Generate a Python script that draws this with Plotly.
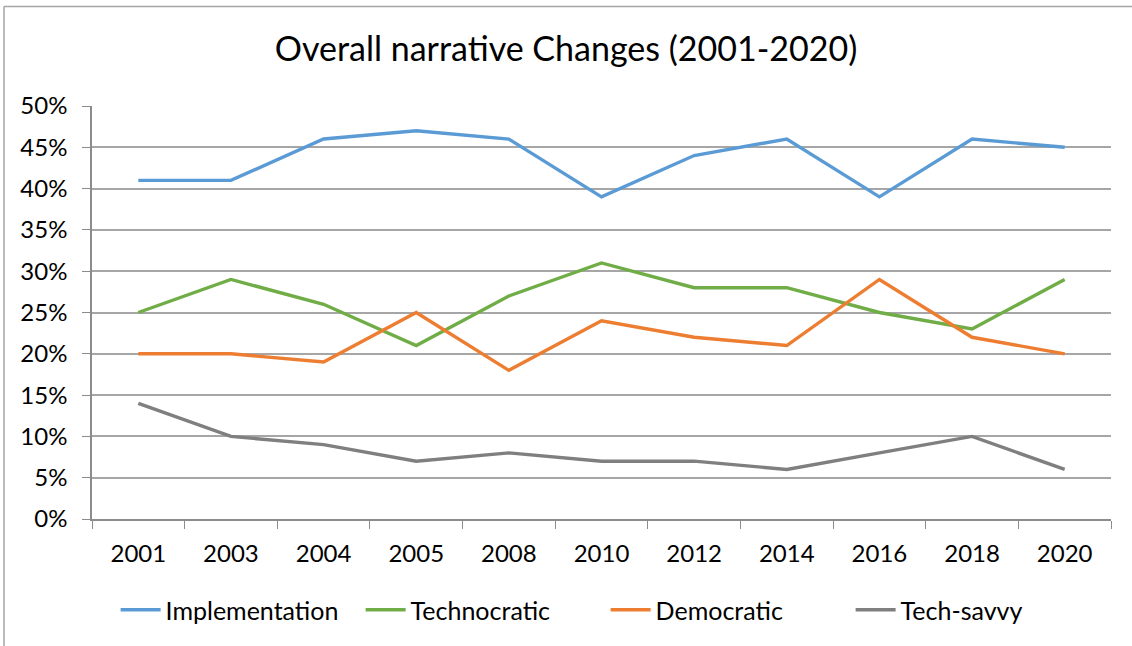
import plotly.graph_objects as go

# Survey years (category axis) and share of each narrative per year
years = ["2001", "2003", "2004", "2005", "2008", "2010", "2012", "2014", "2016", "2018", "2020"]
implementation = [0.41, 0.41, 0.46, 0.47, 0.46, 0.39, 0.44, 0.46, 0.39, 0.46, 0.45]
technocratic = [0.25, 0.29, 0.26, 0.21, 0.27, 0.31, 0.28, 0.28, 0.25, 0.23, 0.29]
democratic = [0.20, 0.20, 0.19, 0.25, 0.18, 0.24, 0.22, 0.21, 0.29, 0.22, 0.20]
tech_savvy = [0.14, 0.10, 0.09, 0.07, 0.08, 0.07, 0.07, 0.06, 0.08, 0.10, 0.06]

series_names = ["Implementation", "Technocratic", "Democratic", "Tech-savvy"]
series_values = [implementation, technocratic, democratic, tech_savvy]
series_colors = ["#5B9BD5", "#70AD47", "#ED7D31", "#7F7F7F"]

FONT = "Lato, 'Open Sans', sans-serif"
GRID = "#A6A6A6"
AXIS = "#8C8C8C"

W, H = 1132, 646
ML, MR, MT, MB = 92, 21, 106, 127

fig = go.Figure()
for name, vals, col in zip(series_names, series_values, series_colors):
    fig.add_trace(go.Scatter(
        x=years, y=vals, name=name, mode="lines",
        line=dict(color=col, width=3.4),
    ))

# outer chart border (left and top edges)
pw, ph = W - ML - MR, H - MT - MB
def px_x(p):
    return (p - ML) / pw
def px_y(p):
    return (H - MB - p) / ph

fig.add_shape(type="line", xref="paper", yref="paper",
              x0=px_x(4), x1=px_x(4), y0=px_y(6.5), y1=px_y(H + 5),
              line=dict(color="#A6A6A6", width=1.5))
fig.add_shape(type="line", xref="paper", yref="paper",
              x0=px_x(4), x1=px_x(W + 5), y0=px_y(6.5), y1=px_y(6.5),
              line=dict(color="#A6A6A6", width=1.5))

fig.update_layout(
    width=W, height=H,
    margin=dict(l=ML, r=MR, t=MT, b=MB),
    paper_bgcolor="white", plot_bgcolor="white",
    font=dict(family=FONT, size=24, color="#000000"),
    title=dict(text="Overall narrative Changes (2001-2020)",
               x=0.5, xref="container", xanchor="center",
               y=1 - 49 / H, yanchor="middle",
               font=dict(family=FONT, size=34, color="#000000")),
    showlegend=True,
    legend=dict(orientation="h", x=0.535, xref="container", xanchor="center",
                y=1 - 610 / H, yref="container", yanchor="middle",
                font=dict(family=FONT, size=25, color="#000000"),
                itemwidth=40, traceorder="normal",
                entrywidthmode="pixels", entrywidth=190),
    xaxis=dict(
        type="category", range=[-0.5, len(years) - 0.5],
        tickson="boundaries", ticks="outside", ticklen=8, tickcolor=AXIS,
        showline=True, linecolor=AXIS, linewidth=1.5,
        showgrid=False, zeroline=False,
        tickfont=dict(family=FONT, size=24, color="#000000"),
        ticklabelstandoff=12,
    ),
    yaxis=dict(
        range=[0, 0.5], dtick=0.05, tickformat=".0%",
        ticks="outside", ticklen=8, tickcolor=AXIS,
        showline=True, linecolor=AXIS, linewidth=1.5,
        showgrid=True, gridcolor=GRID, gridwidth=1.5,
        zeroline=False,
        tickfont=dict(family=FONT, size=24, color="#000000"),
        ticklabelstandoff=10,
    ),
)

fig.write_html("out.html")
